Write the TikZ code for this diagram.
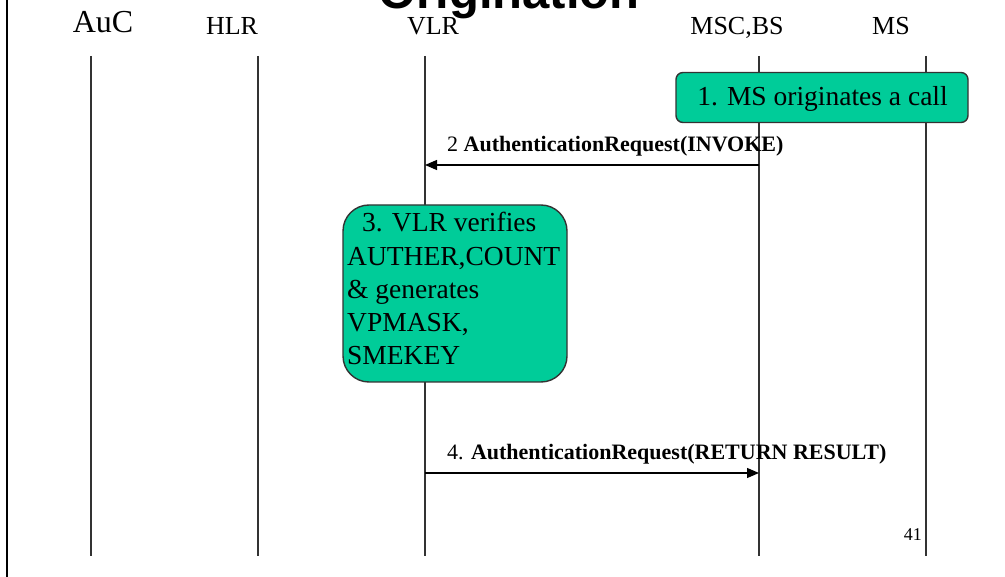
\documentclass[tikz,border=0pt]{standalone}
\usepackage{fontspec}
\setmainfont{Liberation Serif}
\newfontfamily\titlefont{Liberation Sans}
\usetikzlibrary{arrows.meta}

\definecolor{stepfill}{HTML}{00CC99}
\definecolor{lineink}{HTML}{333333}

\tikzset{
  lifeline/.style={draw=lineink, line width=1.3pt},
  msg/.style={draw=black, line width=1.3pt, -{Triangle[length=12pt,width=10pt]}},
  actbox/.style={draw=lineink, line width=1.4pt, fill=stepfill},
  entity/.style={anchor=base, inner sep=0pt, font=\fontsize{26}{30}\selectfont},
  msglabel/.style={anchor=base west, inner sep=0pt, font=\fontsize{22}{26}\selectfont},
}

\begin{document}
\begin{tikzpicture}[x=1pt, y=-1pt]
\useasboundingbox (0,0) rectangle (1005,577);

% page rule on the left
\draw[line width=1.6pt] (7,0) -- (7,577);

% heading
\node[anchor=base, inner sep=0pt, font=\titlefont\bfseries\fontsize{49}{52}\selectfont] (title) at (509,9) {Origination};

% entities
\node[entity, font=\fontsize{32}{36}\selectfont] (auc) at (103,33) {AuC};
\node[entity] (hlr) at (232,35) {HLR};
\node[entity] (vlr) at (433,35) {VLR};
\node[entity] (msc) at (737,35) {MSC,BS};
\node[entity] (ms)  at (891,35) {MS};

% lifelines
\foreach \name/\x in {auc/91, hlr/258, vlr/425, msc/759, ms/926}{
  \coordinate (\name-top) at (\x,56);
  \coordinate (\name-bot) at (\x,556);
  \draw[lifeline] (\name-top) -- (\name-bot);
}

% step 1
\node[actbox, rounded corners=7pt, minimum width=292pt, minimum height=50pt, inner sep=0pt] (s1) at (822,97.5) {};
\node[anchor=base, inner sep=0pt, font=\fontsize{27.5}{32}\selectfont] (s1text) at (822.5,106) {1. MS originates a call};

% message 2
\coordinate (m2-from) at (759,165);
\coordinate (m2-to) at (425,165);
\draw[msg] (m2-from) -- (m2-to);
\node[msglabel] (m2label) at (447,151.5) {2 \textbf{AuthenticationRequest(INVOKE)}};

% step 3
\node[actbox, rounded corners=26pt, minimum width=224pt, minimum height=177pt, inner sep=0pt] (s3) at (455,293.5) {};
\node[anchor=base west, inner sep=0pt, font=\fontsize{27.5}{33.25}\selectfont] (s3text) at (347,232)
  {\parbox[t]{222pt}{\raggedright\hspace*{15pt}3. VLR verifies\\AUTHER,COUNT\\\&~generates\\VPMASK,\\SMEKEY}};

% message 4
\coordinate (m4-from) at (425,473);
\coordinate (m4-to) at (759,473);
\draw[msg] (m4-from) -- (m4-to);
\node[msglabel] (m4label) at (447,460) {4. \textbf{AuthenticationRequest(RETURN RESULT)}};

% page number
\node[anchor=base east, inner sep=0pt, font=\fontsize{18}{22}\selectfont] (pageno) at (922,540) {41};
\end{tikzpicture}
\end{document}
